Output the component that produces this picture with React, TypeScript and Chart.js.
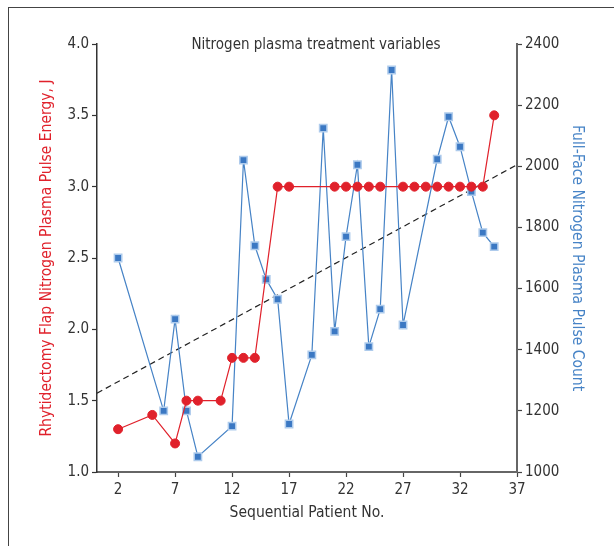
import React, { useEffect, useRef } from "react";
import { Chart, registerables } from "chart.js";

Chart.register(...registerables);

const titleText = "Nitrogen plasma treatment variables";
const xTitle = "Sequential Patient No.";
const leftTitle = "Rhytidectomy Flap Nitrogen Plasma Pulse Energy, J";
const rightTitle = "Full-Face Nitrogen Plasma Pulse Count";

const xTicks = [2, 7, 12, 17, 22, 27, 32, 37];

const energyPatients = [2, 5, 7, 8, 9, 11, 12, 13, 14, 16, 17, 21, 22, 23, 24, 25, 27, 28, 29, 30, 31, 32, 33, 34, 35];
const energyJ = [1.3, 1.4, 1.2, 1.5, 1.5, 1.5, 1.8, 1.8, 1.8, 3.0, 3.0, 3.0, 3.0, 3.0, 3.0, 3.0, 3.0, 3.0, 3.0, 3.0, 3.0, 3.0, 3.0, 3.0, 3.5];

const countPatients = [2, 6, 7, 8, 9, 12, 13, 14, 15, 16, 17, 19, 20, 21, 22, 23, 24, 25, 26, 27, 30, 31, 32, 33, 34, 35];
const pulseCount = [1700, 1200, 1500, 1200, 1050, 1150, 2020, 1740, 1630, 1565, 1157, 1383, 2125, 1460, 1770, 2005, 1410, 1533, 2315, 1481, 2023, 2162, 2064, 1917, 1783, 1737];

const trendX = [0.15, 37];
const trendCount = [1258, 2005];

const FONT = "'Liberation Sans Narrow', 'DejaVu Sans Condensed', 'Roboto', sans-serif";
const RED = "#e0212b";
const BLUE = "#4683c6";

const insideTitle = {
  id: "insideTitle",
  afterDraw(chart: any) {
    const { ctx, chartArea } = chart;
    ctx.save();
    ctx.font = `15px ${FONT}`;
    ctx.fillStyle = "#333";
    ctx.textAlign = "center";
    ctx.textBaseline = "middle";
    ctx.fillText(titleText, (chartArea.left + chartArea.right) / 2 + 9, chartArea.top + 1);
    ctx.restore();
  },
};

export default function App() {
  const ref = useRef<HTMLCanvasElement | null>(null);
  useEffect(() => {
    if (!ref.current) return;
    const chart = new Chart(ref.current, {
      type: "line",
      data: {
        datasets: [
          {
            label: "Trend",
            data: trendX.map((x, i) => ({ x, y: trendCount[i] })),
            yAxisID: "y1",
            borderColor: "#222",
            borderWidth: 1.2,
            borderDash: [6, 4],
            pointRadius: 0,
            fill: false,
            order: 3,
          },
          {
            label: "Pulse count",
            data: countPatients.map((x, i) => ({ x, y: pulseCount[i] })),
            yAxisID: "y1",
            borderColor: BLUE,
            borderWidth: 1.2,
            pointStyle: "rect",
            pointRadius: 5.2,
            pointBackgroundColor: "#3b78c3",
            pointBorderColor: "#aecbec",
            pointBorderWidth: 1.5,
            fill: false,
            order: 2,
          },
          {
            label: "Energy",
            data: energyPatients.map((x, i) => ({ x, y: energyJ[i] })),
            yAxisID: "y",
            borderColor: RED,
            borderWidth: 1.2,
            pointStyle: "circle",
            pointRadius: 4.5,
            pointBackgroundColor: RED,
            pointBorderColor: RED,
            pointBorderWidth: 1,
            fill: false,
            order: 1,
          },
        ],
      },
      options: {
        responsive: false,
        animation: false,
        layout: { padding: { left: 34, right: 24, top: 44, bottom: 20 } },
        plugins: { legend: { display: false }, title: { display: false }, tooltip: { enabled: false } },
        scales: {
          x: {
            type: "linear",
            min: 0.15,
            max: 37,
            afterBuildTicks: (s: any) => {
              s.ticks = xTicks.map((v) => ({ value: v }));
            },
            afterFit: (s: any) => {
              s.height = 54;
            },
            border: { display: true, color: "#666", width: 2 },
            grid: { drawOnChartArea: false, drawTicks: true, tickLength: 5, tickColor: "#444", tickWidth: 1.2 },
            ticks: { color: "#333", font: { family: FONT, size: 15 }, padding: 4, maxRotation: 0, callback: (v: any) => String(v) },
            title: { display: true, text: xTitle, color: "#333", font: { family: FONT, size: 15.5 } },
          },
          y: {
            type: "linear",
            position: "left",
            min: 1,
            max: 4,
            afterFit: (s: any) => {
              s.width = 63;
            },
            border: { display: true, color: "#333", width: 1.5 },
            grid: { drawOnChartArea: false, drawTicks: true, tickLength: 5, tickColor: "#333", tickWidth: 1.2 },
            ticks: { stepSize: 0.5, color: "#333", font: { family: FONT, size: 15 }, padding: 3, callback: (v: any) => Number(v).toFixed(1) },
            title: { display: true, text: leftTitle, color: RED, font: { family: FONT, size: 15.5 } },
          },
          y1: {
            type: "linear",
            position: "right",
            min: 1000,
            max: 2400,
            afterFit: (s: any) => {
              s.width = 73;
            },
            border: { display: true, color: "#666", width: 2 },
            grid: { drawOnChartArea: false, drawTicks: true, tickLength: 5, tickColor: "#444", tickWidth: 1.2 },
            ticks: { stepSize: 200, color: "#333", font: { family: FONT, size: 15 }, padding: 3, callback: (v: any) => String(v) },
            title: { display: true, text: rightTitle, color: BLUE, font: { family: FONT, size: 15.5 } },
          },
        },
      },
      plugins: [insideTitle],
    });
    return () => chart.destroy();
  }, []);

  return (
    <div>
      <div
        style={{
          position: "fixed",
          left: 8,
          top: 7,
          width: 700,
          height: 700,
          borderLeft: "1.5px solid #444",
          borderTop: "1.5px solid #444",
        }}
      />
      <div style={{ position: "fixed", left: 0, top: 0, width: 614, height: 546 }}>
        <canvas ref={ref} width={614} height={546} />
      </div>
    </div>
  );
}
